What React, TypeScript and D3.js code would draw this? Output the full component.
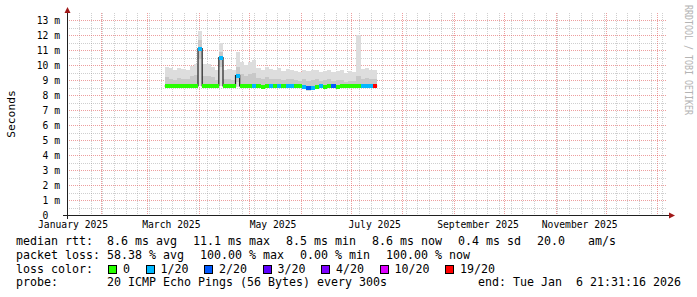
import React from 'react';
import * as d3 from 'd3';

const WIDTH = 697;
const HEIGHT = 297;
const PLOT = { left: 67, right: 667, top: 15, bottom: 215 };
const Y_MAX = 200 / 15;

const END_TIME = new Date(Date.UTC(2026, 0, 6, 21, 31, 16));
const SPAN_DAYS = 360;
const DATA_START = new Date(Date.UTC(2025, 2, 11, 12));
const STEP_HOURS = 60;

// median RTT per consolidated step (ms)
const medianMs = [
  8.6, 8.6, 8.6, 8.6, 8.6, 8.6, 8.6, 8.6, 11.1, 8.6,
  8.6, 8.6, 8.6, 10.5, 8.6, 8.6, 8.6, 9.3, 8.6, 8.6,
  8.6, 8.6, 8.6, 8.55, 8.6, 8.6, 8.6, 8.6, 8.6, 8.6,
  8.6, 8.6, 8.6, 8.55, 8.46, 8.5, 8.55, 8.6, 8.55, 8.6,
  8.6, 8.55, 8.6, 8.6, 8.6, 8.6, 8.6, 8.6, 8.6, 8.6,
  8.6,
];
// lost pings out of 20 per step
const lossCount = [
  0, 0, 0, 0, 0, 0, 0, 0, 1, 0,
  0, 0, 0, 1, 0, 0, 0, 1, 0, 0,
  0, 1, 0, 0, 0, 1, 0, 1, 0, 1,
  1, 0, 0, 1, 2, 1, 0, 1, 0, 0,
  2, 0, 0, 0, 0, 0, 0, 1, 1, 1,
  19,
];
// smoke: slowest ping
const smokeMax = [
  9.9, 9.8, 9.65, 9.8, 9.75, 9.7, 9.95, 10.1, 12.3, 10.1,
  10.05, 9.9, 9.65, 11.5, 9.7, 9.75, 9.7, 10.9, 10.2, 10.0,
  10.2, 10.35, 9.8, 9.7, 9.85, 9.75, 9.7, 9.8, 9.6, 9.75,
  9.7, 9.6, 9.55, 9.7, 9.6, 9.65, 9.7, 9.55, 9.6, 9.7,
  9.55, 9.6, 9.65, 9.5, 9.6, 9.55, 12.0, 9.75, 9.8, 9.7,
  9.7,
];
// smoke: second slowest ping
const smokeHigh2 = [
  9.2, 9.1, 9.0, 9.15, 9.1, 9.05, 9.25, 9.35, 11.7, 9.3,
  9.3, 9.2, 9.0, 10.9, 9.05, 9.1, 9.0, 9.9, 9.4, 9.25,
  9.4, 9.5, 9.15, 9.05, 9.2, 9.1, 9.05, 9.1, 9.0, 9.1,
  9.05, 9.0, 8.95, 9.05, 8.95, 9.0, 9.05, 8.95, 9.0, 9.05,
  8.95, 9.0, 9.0, 8.9, 8.95, 8.95, 9.3, 9.1, 9.15, 9.05,
  9.05,
];
// smoke: second fastest ping
const smokeLow2 = [
  8.5, 8.5, 8.5, 8.5, 8.5, 8.5, 8.5, 8.5, 10.4, 8.5,
  8.5, 8.5, 8.5, 9.9, 8.5, 8.5, 8.5, 8.9, 8.5, 8.5,
  8.5, 8.5, 8.5, 8.48, 8.5, 8.5, 8.5, 8.5, 8.5, 8.5,
  8.5, 8.5, 8.5, 8.45, 8.38, 8.45, 8.48, 8.5, 8.48, 8.5,
  8.5, 8.48, 8.5, 8.5, 8.5, 8.5, 8.5, 8.5, 8.5, 8.5,
  8.5,
];
// smoke: fastest ping
const smokeMin = [
  8.45, 8.45, 8.45, 8.45, 8.45, 8.45, 8.45, 8.45, 8.6, 8.45,
  8.45, 8.45, 8.45, 8.6, 8.45, 8.45, 8.45, 8.55, 8.45, 8.45,
  8.45, 8.45, 8.45, 8.42, 8.45, 8.45, 8.45, 8.45, 8.45, 8.45,
  8.45, 8.45, 8.45, 8.4, 8.3, 8.4, 8.42, 8.45, 8.42, 8.45,
  8.45, 8.42, 8.45, 8.45, 8.45, 8.45, 8.45, 8.45, 8.45, 8.45,
  8.45,
];

const lossThresholds = [0, 1, 2, 3, 4, 10, 19];
const lossLabels = ['0', '1/20', '2/20', '3/20', '4/20', '10/20', '19/20'];
const lossColors = ['#26ff00', '#00b8ff', '#0059ff', '#5e00ff', '#7e00ff', '#dd00ff', '#ff0000'];

const yTickValues = [0, 1, 2, 3, 4, 5, 6, 7, 8, 9, 10, 11, 12, 13];

const rttLegend = ['median rtt:', '8.6 ms avg', '11.1 ms max', '8.5 ms min', '8.6 ms now', '0.4 ms sd', '20.0', ' am/s'];
const lossLegend = ['packet loss:', '58.38 % avg', '100.00 % max', '0.00 % min', '100.00 % now'];
const probeLegend = ['probe:', '20 ICMP Echo Pings (56 Bytes) every 300s'];
const endLegend = 'end: Tue Jan  6 21:31:16 2026';

const MONO = "'DejaVu Sans Mono', 'Liberation Mono', monospace";
const CW = 7.0;
const LEG_FS = 11.63;
const AX_FS = 9.7;

function colorForLoss(l: number) {
  for (let k = 0; k < lossThresholds.length; k++) {
    if (l <= lossThresholds[k]) return lossColors[k];
  }
  return lossColors[lossColors.length - 1];
}

function segPositions(segs: string[]) {
  const xs: number[] = [16];
  let cur = 107;
  for (let i = 1; i < segs.length; i++) {
    xs.push(cur);
    cur = cur + segs[i].length * CW + 16;
  }
  return xs;
}

export default function App() {
  const start = new Date(END_TIME.getTime() - SPAN_DAYS * 864e5);
  const x = d3.scaleUtc().domain([start, END_TIME]).range([PLOT.left, PLOT.right]);
  const y = d3.scaleLinear().domain([0, Y_MAX]).range([PLOT.bottom, PLOT.top]);
  const stepMs = STEP_HOURS * 3600 * 1000;
  const times = medianMs.map((_, i) => new Date(DATA_START.getTime() + i * stepMs));
  const tEnd = (i: number) => new Date(times[i].getTime() + stepMs);

  const weeks = d3.utcSunday.range(start, END_TIME);
  const months = d3.utcMonth.range(start, END_TIME);
  const monthKeys = new Set(months.map((m) => Math.round(x(m))));
  const labelMonths = d3.utcMonth
    .every(2)!
    .range(new Date(Date.UTC(2025, 0, 1)), END_TIME)
    .map((m) => ({ m, c: new Date(m.getTime() + 14.5 * 864e5) }))
    .filter((d) => d.c > start && d.c < END_TIME);
  const fmt = d3.utcFormat('%B %Y');

  const minorY = d3.range(1, 27).map((k) => k * 0.5).filter((v) => v % 1 !== 0);
  const majorY = yTickValues.filter((v) => v > 0);

  const pts: [Date, number][] = times.map((t, i) => [t, medianMs[i]]);
  pts.push([tEnd(times.length - 1), medianMs[medianMs.length - 1]]);
  const medLine = d3
    .line<[Date, number]>()
    .x((d) => x(d[0]))
    .y((d) => y(d[1]))
    .curve(d3.curveStepAfter);

  const px = (v: number) => Math.round(v) + 0.5;

  const rttX = segPositions(rttLegend);
  const lossX = segPositions(lossLegend);

  const boxes: { bx: number; tx: number; label: string; color: string }[] = [];
  let bx = 108;
  lossLabels.forEach((label, i) => {
    const tx = bx + 15;
    boxes.push({ bx, tx, label, color: lossColors[i] });
    bx = tx + label.length * CW + 15.5;
  });

  return (
    <svg
      width={WIDTH}
      height={HEIGHT}
      style={{ position: 'absolute', left: 0, top: 0, background: '#fff' }}
      fontFamily={MONO}
    >
      <rect x={0} y={0} width={WIDTH} height={HEIGHT} fill="#ffffff" />

      {/* minor grid */}
      <g stroke="rgba(140,140,140,0.42)" strokeWidth={1} strokeDasharray="1,1" shapeRendering="crispEdges">
        {weeks
          .filter((w) => !monthKeys.has(Math.round(x(w))))
          .map((w, i) => (
            <line key={'w' + i} x1={px(x(w))} x2={px(x(w))} y1={PLOT.top - 2} y2={PLOT.bottom} />
          ))}
        {minorY.map((v, i) => (
          <line key={'my' + i} x1={PLOT.left} x2={PLOT.right} y1={px(y(v))} y2={px(y(v))} />
        ))}
      </g>
      {/* major grid */}
      <g stroke="rgba(222,79,79,0.55)" strokeWidth={1} strokeDasharray="1,1" shapeRendering="crispEdges">
        {months.map((m, i) => (
          <line key={'m' + i} x1={px(x(m))} x2={px(x(m))} y1={PLOT.top - 2} y2={PLOT.bottom} />
        ))}
        {majorY.map((v, i) => (
          <line key={'My' + i} x1={PLOT.left} x2={PLOT.right} y1={px(y(v))} y2={px(y(v))} />
        ))}
      </g>

      {/* smoke */}
      <g shapeRendering="crispEdges">
        {times.map((t, i) => (
          <rect
            key={'s1' + i}
            x={x(t)}
            width={x(tEnd(i)) - x(t)}
            y={y(smokeMax[i])}
            height={y(smokeMin[i]) - y(smokeMax[i])}
            fill="#dddddd"
          />
        ))}
        {times.map((t, i) => (
          <rect
            key={'s2' + i}
            x={x(t)}
            width={x(tEnd(i)) - x(t)}
            y={y(smokeHigh2[i])}
            height={y(smokeLow2[i]) - y(smokeHigh2[i])}
            fill="#c8c8c8"
          />
        ))}
      </g>

      {/* median thin line */}
      <path d={medLine(pts) || ''} fill="none" stroke="#202020" strokeWidth={1.2} />

      {/* median colored by loss */}
      <g shapeRendering="crispEdges">
        {times.map((t, i) => (
          <rect
            key={'md' + i}
            x={x(t)}
            width={x(tEnd(i)) - x(t)}
            y={y(medianMs[i]) - 2}
            height={4}
            fill={colorForLoss(lossCount[i])}
          />
        ))}
      </g>

      {/* axes */}
      <g stroke="#202020" strokeWidth={1} shapeRendering="crispEdges">
        <line x1={PLOT.left - 4} x2={670} y1={PLOT.bottom + 0.5} y2={PLOT.bottom + 0.5} />
        <line x1={PLOT.left + 0.5} x2={PLOT.left + 0.5} y1={PLOT.bottom + 4} y2={10} />
      </g>
      <path d={`M${PLOT.left - 2.5},13 L${PLOT.left + 3.5},13 L${PLOT.left + 0.5},7 Z`} fill="#a01818" />
      <path d={`M669,${PLOT.bottom - 2.5} L669,${PLOT.bottom + 3.5} L675,${PLOT.bottom + 0.5} Z`} fill="#a01818" />

      {/* y labels */}
      <g fontSize={AX_FS} fill="#000">
        {yTickValues.map((v) => (
          <text key={'yl' + v} x={v === 0 ? 48.3 : 60} y={y(v) + 3.5} textAnchor="end">
            {v === 0 ? '0' : `${v} m`}
          </text>
        ))}
      </g>
      {/* x labels */}
      <g fontSize={AX_FS} fill="#000">
        {labelMonths.map((d, i) => (
          <text key={'xl' + i} x={x(d.c)} y={228} textAnchor="middle">
            {fmt(d.m)}
          </text>
        ))}
      </g>

      {/* axis title */}
      <text transform={`translate(14.5,114) rotate(-90)`} textAnchor="middle" fontSize={11.3} fill="#000">
        Seconds
      </text>

      {/* watermark */}
      <text
        transform={`translate(685,5) rotate(90)`}
        fontSize={10.5}
        fill="#b4b4b4"
        textLength={110}
        lengthAdjust="spacingAndGlyphs"
      >
        RRDTOOL / TOBI OETIKER
      </text>

      {/* legend */}
      <g fontSize={LEG_FS} fill="#000" style={{ whiteSpace: 'pre' }}>
        {rttLegend.map((s, i) => (
          <text key={'r' + i} x={rttX[i]} y={245} xmlSpace="preserve">
            {s}
          </text>
        ))}
        {lossLegend.map((s, i) => (
          <text key={'l' + i} x={lossX[i]} y={258.7} xmlSpace="preserve">
            {s}
          </text>
        ))}
        <text x={16} y={272.5}>loss color:</text>
        {boxes.map((b, i) => (
          <g key={'b' + i}>
            <rect x={b.bx + 0.5} y={265.5} width={8} height={8} fill={b.color} stroke="#000" strokeWidth={1} shapeRendering="crispEdges" />
            <text x={b.tx} y={272.5}>
              {b.label}
            </text>
          </g>
        ))}
        <text x={16} y={286}>{probeLegend[0]}</text>
        <text x={107} y={286}>{probeLegend[1]}</text>
        <text x={681} y={286} textAnchor="end" xmlSpace="preserve">
          {endLegend}
        </text>
      </g>
    </svg>
  );
}
